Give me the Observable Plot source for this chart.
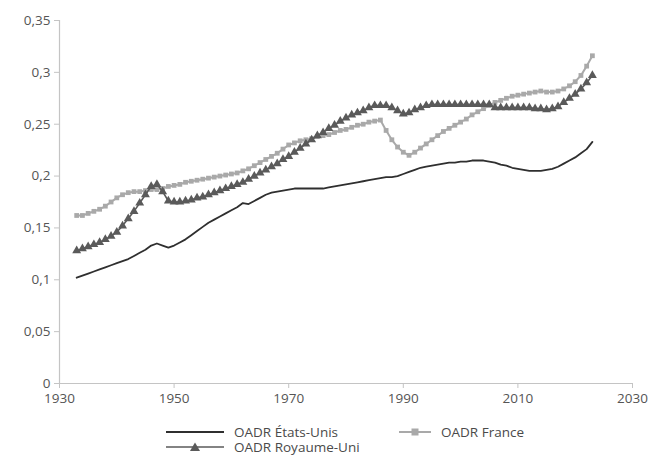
<!DOCTYPE html>
<html><head><meta charset="utf-8">
<script src="https://cdn.jsdelivr.net/npm/d3@7"></script>
<script src="https://cdn.jsdelivr.net/npm/@observablehq/plot@0.6"></script>
<style>
body{margin:0;background:#fff;font-family:"Open Sans",sans-serif;}
#wrap{position:relative;width:651px;height:455px;overflow:hidden;}
#wrap svg.chart{position:absolute;left:0;top:0;}
.leg{position:absolute;font-size:13.5px;line-height:14px;color:#4a4a4a;display:flex;align-items:center;white-space:nowrap;height:14px;}
.leg svg{margin-right:10px;}
</style></head><body><div id="wrap"></div>
<script>
const years = d3.range(1933, 2024);
const usValues = [
0.102,0.104,0.106,0.108,0.110,0.112,0.114,0.116,0.118,0.120,
0.123,0.126,0.129,0.133,0.135,0.133,0.131,0.133,0.136,0.139,
0.143,0.147,0.151,0.155,0.158,0.161,0.164,0.167,0.170,0.174,
0.173,0.176,0.179,0.182,0.184,0.185,0.186,0.187,0.188,0.188,
0.188,0.188,0.188,0.188,0.189,0.190,0.191,0.192,0.193,0.194,
0.195,0.196,0.197,0.198,0.199,0.199,0.200,0.202,0.204,0.206,
0.208,0.209,0.210,0.211,0.212,0.213,0.213,0.214,0.214,0.215,
0.215,0.215,0.214,0.213,0.211,0.210,0.208,0.207,0.206,0.205,
0.205,0.205,0.206,0.207,0.209,0.212,0.215,0.218,0.222,0.226,
0.233];
const franceValues = [
0.162,0.162,0.164,0.166,0.168,0.171,0.175,0.179,0.182,0.184,
0.185,0.185,0.186,0.187,0.187,0.188,0.190,0.191,0.192,0.194,
0.195,0.196,0.197,0.198,0.199,0.200,0.201,0.202,0.203,0.205,
0.207,0.210,0.213,0.216,0.219,0.222,0.226,0.230,0.232,0.234,
0.235,0.236,0.238,0.239,0.240,0.242,0.244,0.245,0.247,0.249,
0.250,0.252,0.253,0.254,0.244,0.235,0.228,0.223,0.220,0.223,
0.227,0.231,0.235,0.239,0.243,0.246,0.249,0.252,0.255,0.259,
0.262,0.265,0.268,0.271,0.273,0.275,0.277,0.278,0.279,0.280,
0.281,0.282,0.281,0.281,0.282,0.284,0.287,0.291,0.297,0.306,
0.316];
const ukValues = [
0.128,0.130,0.132,0.134,0.136,0.139,0.142,0.146,0.152,0.159,
0.166,0.174,0.182,0.190,0.192,0.185,0.176,0.175,0.175,0.176,
0.177,0.179,0.180,0.182,0.184,0.186,0.188,0.190,0.192,0.194,
0.197,0.200,0.203,0.206,0.209,0.212,0.216,0.219,0.223,0.227,
0.231,0.235,0.239,0.242,0.246,0.249,0.253,0.256,0.259,0.261,
0.263,0.266,0.268,0.268,0.268,0.266,0.263,0.260,0.261,0.264,
0.266,0.268,0.269,0.269,0.269,0.269,0.269,0.269,0.269,0.269,
0.269,0.269,0.269,0.266,0.266,0.266,0.266,0.266,0.266,0.266,
0.265,0.265,0.264,0.265,0.267,0.271,0.275,0.279,0.284,0.290,
0.297];
const yTicks = [0, 0.05, 0.1, 0.15, 0.2, 0.25, 0.3, 0.35];
const xTicks = [1930, 1950, 1970, 1990, 2010, 2030];
const seriesNames = ["OADR États-Unis", "OADR France", "OADR Royaume-Uni"];

const us = years.map((year, i) => ({year, v: usValues[i]})).filter(d => d.v != null);
const fr = years.map((year, i) => ({year, v: franceValues[i]})).filter(d => d.v != null);
const uk = years.map((year, i) => ({year, v: ukValues[i]})).filter(d => d.v != null);

const cUS = "#2f2f2f", cFR = "#a9a9a9", cUK = "#5a5a5a", cAxis = "#c4c4c4", cText = "#555555";

const chart = Plot.plot({
  width: 651, height: 413,
  marginLeft: 59, marginRight: 19, marginTop: 20, marginBottom: 30,
  x: {domain: [1930, 2030]},
  y: {domain: [0, 0.35]},
  style: {fontFamily: "'Open Sans', sans-serif", fontSize: "13.5px", background: "white", overflow: "visible"},
  marks: [
    Plot.ruleX([1930], {y1: 0, y2: 0.35, stroke: cAxis, strokeWidth: 1.2}),
    Plot.ruleY([0], {x1: 1930, x2: 2030, stroke: cAxis, strokeWidth: 1.2}),
    Plot.axisY({ticks: yTicks, tickSize: 5, tickPadding: 4, stroke: cAxis, fill: cText, label: null,
      tickFormat: d => String(d).replace(".", ",")}),
    Plot.axisX({ticks: xTicks, tickSize: 5, tickPadding: 5, stroke: cAxis, fill: cText, label: null,
      tickFormat: d => String(d)}),
    Plot.line(fr, {x: "year", y: "v", stroke: cFR, strokeWidth: 2}),
    Plot.dot(fr, {x: "year", y: "v", symbol: "square", r: 2.7, fill: cFR}),
    Plot.line(uk, {x: "year", y: "v", stroke: cUK, strokeWidth: 1.6}),
    Plot.dot(uk, {x: "year", y: "v", symbol: "triangle", r: 3.3, fill: cUK}),
    Plot.line(us, {x: "year", y: "v", stroke: cUS, strokeWidth: 1.8})
  ]
});
chart.classList.add("chart");
const wrap = document.getElementById("wrap");
wrap.appendChild(chart);

function swatch(color, sym, lw, w) {
  let s = `<svg width="${w}" height="12"><line x1="0" y1="6" x2="${w}" y2="6" stroke="${color}" stroke-width="${lw}"/>`;
  const c = w / 2;
  if (sym === "square") s += `<rect x="${c - 3.5}" y="2.5" width="7" height="7" fill="${color}"/>`;
  if (sym === "triangle") s += `<path d="M${c},1.5 L${c + 5},10 L${c - 5},10 Z" fill="${color}"/>`;
  return s + "</svg>";
}
const legendItems = [
  {name: seriesNames[0], color: cUS, sym: null, lw: 2, w: 58, left: 166, top: 425},
  {name: seriesNames[1], color: cFR, sym: "square", lw: 2, w: 32, left: 399, top: 425},
  {name: seriesNames[2], color: cUK, sym: "triangle", lw: 1.6, w: 58, left: 166, top: 440}
];
for (const it of legendItems) {
  const d = document.createElement("div");
  d.className = "leg";
  d.style.left = it.left + "px";
  d.style.top = it.top + "px";
  d.innerHTML = swatch(it.color, it.sym, it.lw, it.w) + `<span>${it.name}</span>`;
  wrap.appendChild(d);
}
</script></body></html>
